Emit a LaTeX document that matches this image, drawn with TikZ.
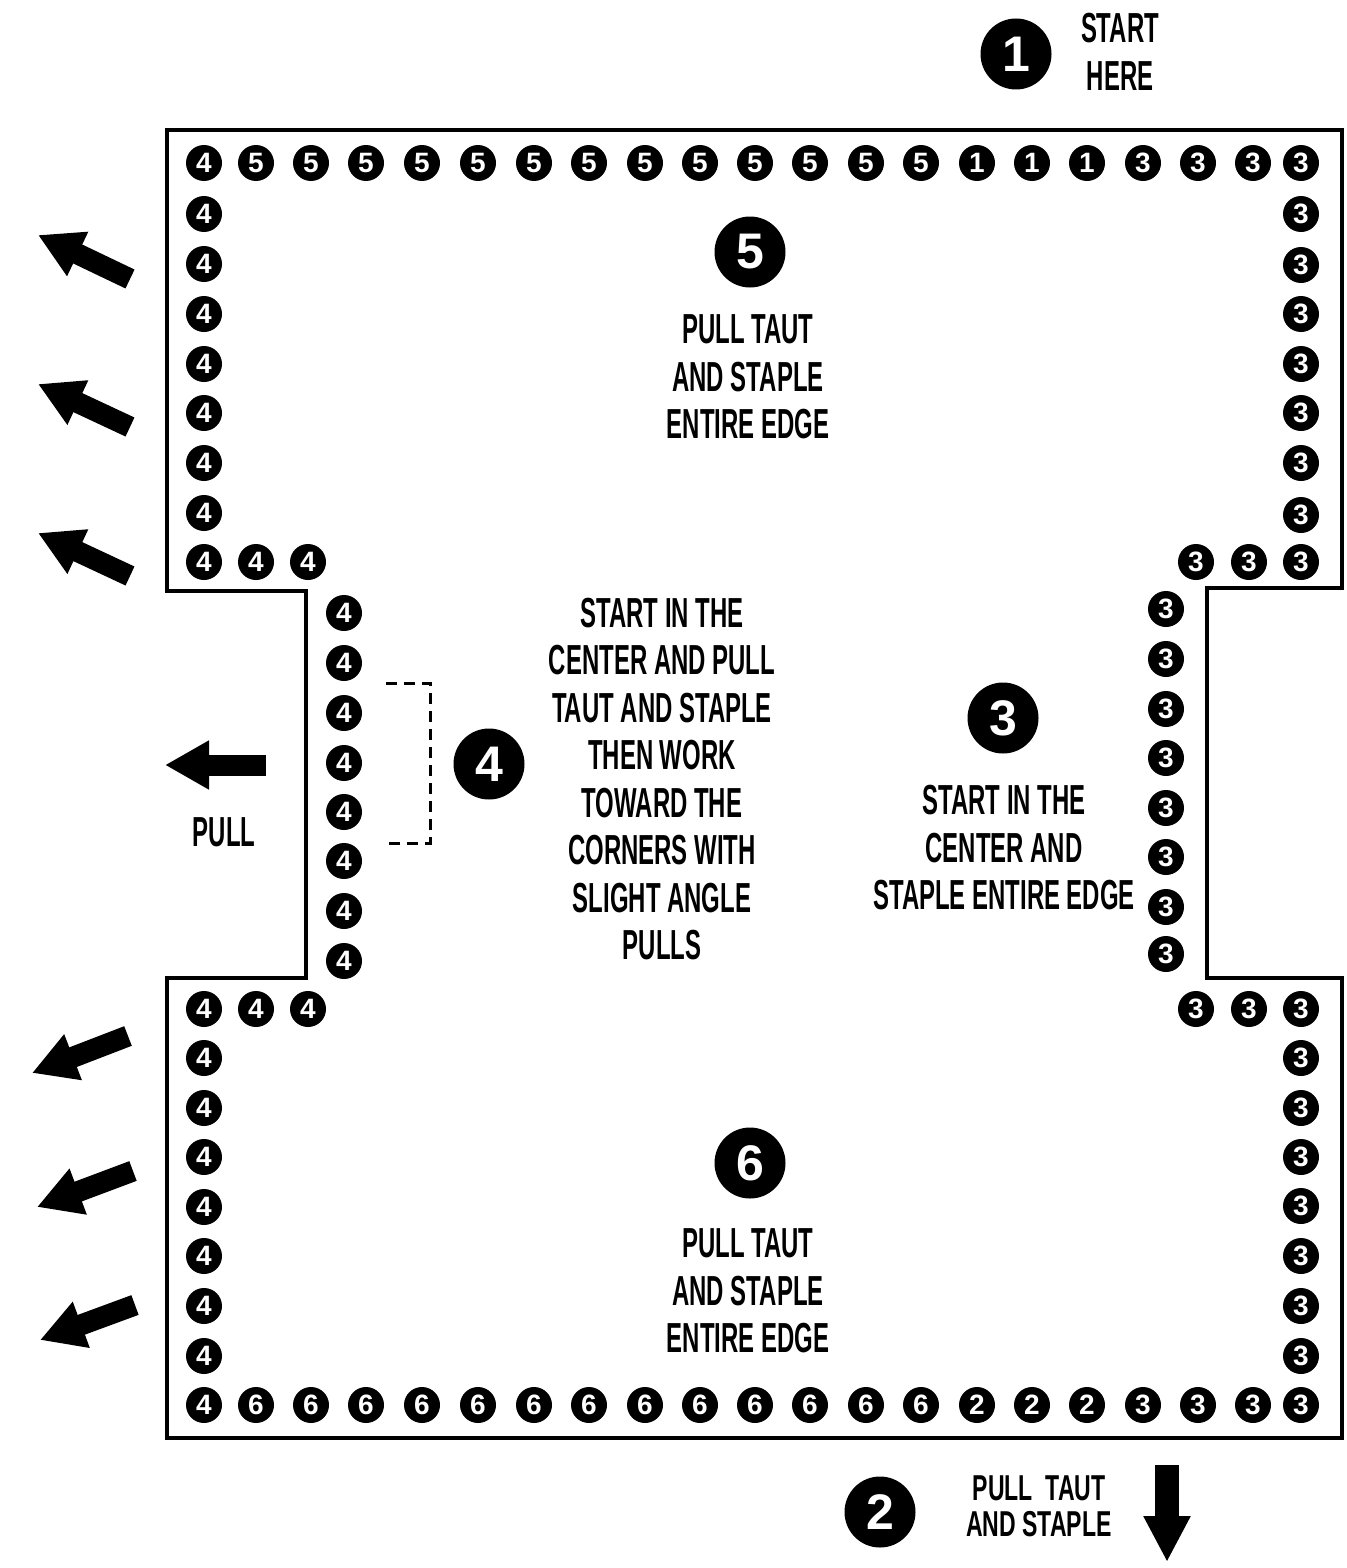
\documentclass[tikz,border=0pt]{standalone}
\usepackage{fontspec}
\setmainfont{Liberation Sans}
\newfontfamily\condfont[FakeStretch=0.57]{Liberation Sans}
\newfontfamily\condfontb[FakeStretch=0.64]{Liberation Sans}
\usetikzlibrary{arrows.meta}
\begin{document}
\begin{tikzpicture}[x=0.5pt,y=-0.5pt,
  dot/.style={circle,fill=black,inner sep=0pt,minimum size=18pt,text=white,
    font=\bfseries\fontsize{14}{14}\selectfont},
  bigdot/.style={circle,fill=black,inner sep=0pt,minimum size=35.5pt,text=white,
    font=\bfseries\fontsize{25}{25}\selectfont},
  txt/.style={align=center,inner sep=0pt,font=\condfont\bfseries\fontsize{21}{23.75}\selectfont},
  txtb/.style={align=center,inner sep=0pt,font=\condfontb\bfseries\fontsize{18}{18}\selectfont},
  outline/.style={line width=2pt,line join=miter},
  fatarrow/.style={line width=10.5pt,line cap=butt,-{Triangle[length=22pt,width=23pt]}},
  bracket/.style={line width=1.5pt,dash pattern=on 5.5pt off 3.5pt},
]
\useasboundingbox[fill=white] (0,0) rectangle (1346,1568);

% outline of the fabric
\draw[outline] (167,130) -- (1342,130) -- (1342,588) -- (1207,588) -- (1207,978)
  -- (1342,978) -- (1342,1438) -- (167,1438) -- (167,978) -- (306,978)
  -- (306,591) -- (167,591) -- cycle;

% top row
\foreach \x/\n [count=\i] in {204/4,256/5,311/5,366/5,422/5,478/5,534/5,589/5,645/5,700/5,755/5,810/5,866/5,921/5,977/1,1032/1,1087/1,1143/3,1198/3,1253/3,1301/3}
  \node[dot] (top\i) at (\x,163) {\n};
% bottom row
\foreach \x/\n [count=\i] in {204/4,256/6,311/6,366/6,422/6,478/6,534/6,589/6,645/6,700/6,755/6,810/6,866/6,921/6,977/2,1032/2,1087/2,1143/3,1198/3,1253/3,1301/3}
  \node[dot] (bot\i) at (\x,1405) {\n};
% left column, upper part
\foreach \y [count=\i] in {214,264,314,364,413,463,513}
  \node[dot] (lu\i) at (204,\y) {4};
\foreach \x [count=\i] in {204,256,308}
  \node[dot] (lur\i) at (\x,562) {4};
% right column, upper part
\foreach \y [count=\i] in {214,265,314,364,413,463,515}
  \node[dot] (ru\i) at (1301,\y) {3};
\foreach \x [count=\i] in {1196,1249,1301}
  \node[dot] (rur\i) at (\x,562) {3};
% notch columns
\foreach \y [count=\i] in {613,663,713,763,812,861,911,961}
  \node[dot] (ln\i) at (344,\y) {4};
\foreach \y [count=\i] in {609,659,709,758,808,857,907,954}
  \node[dot] (rn\i) at (1166,\y) {3};
% lower rows
\foreach \x [count=\i] in {204,256,308}
  \node[dot] (llr\i) at (\x,1009) {4};
\foreach \x [count=\i] in {1196,1249,1301}
  \node[dot] (rlr\i) at (\x,1009) {3};
\foreach \y [count=\i] in {1058,1108,1157,1207,1256,1306,1356}
  \node[dot] (ll\i) at (204,\y) {4};
\foreach \y [count=\i] in {1058,1108,1157,1206,1256,1306,1356}
  \node[dot] (rl\i) at (1301,\y) {3};

% big step numbers
\node[bigdot] (s1) at (1016,54) {1};
\node[bigdot] (s5) at (750,252) {5};
\node[bigdot] (s4) at (489,764) {4};
\node[bigdot] (s3) at (1003,718) {3};
\node[bigdot] (s6) at (750,1163) {6};
\node[bigdot] (s2) at (880,1512) {2};

% texts
\node[txt] (tstart) at (1120,52) {START\\HERE};
\node[txt] (t5) at (748,377) {PULL TAUT\\AND STAPLE\\ENTIRE EDGE};
\node[txt] (t4) at (662,779) {START IN THE\\CENTER AND PULL\\TAUT AND STAPLE\\THEN WORK\\TOWARD THE\\CORNERS WITH\\SLIGHT ANGLE\\PULLS};
\node[txt] (t3) at (1004,848) {START IN THE\\CENTER AND\\STAPLE ENTIRE EDGE};
\node[txt] (t6) at (748,1291) {PULL TAUT\\AND STAPLE\\ENTIRE EDGE};
\node[txt] (tpull) at (224,832) {PULL};
\node[txtb] (t2) at (1039,1506) {PULL~ TAUT\\AND STAPLE};

% dashed bracket
\coordinate (b1) at (386,683);
\coordinate (b2) at (430,683);
\coordinate (b3) at (430,843);
\coordinate (b4) at (386,843);
\draw[bracket] (b1) -- (b2) -- (b3) -- (b4);

% pull arrows
\coordinate (a1s) at (130,279);  \coordinate (a1e) at (38,235);
\coordinate (a2s) at (130,427);  \coordinate (a2e) at (38,384);
\coordinate (a3s) at (130,576);  \coordinate (a3e) at (38,533);
\coordinate (a4s) at (128,1036); \coordinate (a4e) at (32,1073);
\coordinate (a5s) at (133,1171); \coordinate (a5e) at (37,1207);
\coordinate (a6s) at (135,1305); \coordinate (a6e) at (40,1340);
\coordinate (a7s) at (266,765);  \coordinate (a7e) at (165,765);
\coordinate (a8s) at (1167,1465); \coordinate (a8e) at (1167,1562);
\foreach \k in {1,...,7}
  \draw[fatarrow] (a\k s) -- (a\k e);
\draw[line width=12pt,line cap=butt,-{Triangle[length=23pt,width=22pt]}] (a8s) -- (a8e);
\end{tikzpicture}
\end{document}
